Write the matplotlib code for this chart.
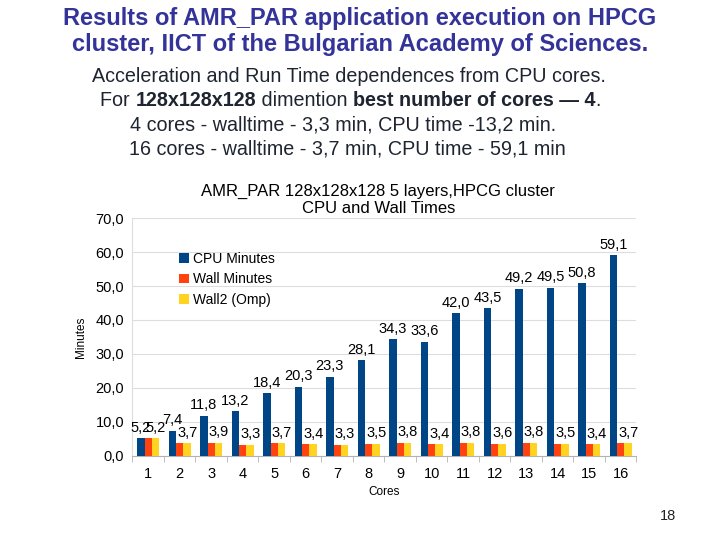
import numpy as np
import matplotlib
matplotlib.use('Agg')
import matplotlib.pyplot as plt

# Data.
cores = np.arange(1, 17)
cpu_minutes = [5.2, 7.4, 11.8, 13.2, 18.4, 20.3, 23.3, 28.1, 34.3, 33.6, 42.0, 43.5, 49.2, 49.5, 50.8, 59.1]
wall_minutes = [5.2, 3.7, 3.9, 3.3, 3.7, 3.4, 3.3, 3.5, 3.8, 3.4, 3.8, 3.6, 3.8, 3.5, 3.4, 3.7]
wall2_omp = [5.2, 3.7, 3.9, 3.3, 3.7, 3.4, 3.3, 3.5, 3.8, 3.4, 3.8, 3.6, 3.8, 3.5, 3.4, 3.7]
yticks = np.arange(0, 71, 10)

plt.rcParams['font.family'] = ['Liberation Sans', 'DejaVu Sans']

def comma(v):
    return f'{v:.1f}'.replace('.', ',')

fig = plt.figure(figsize=(7.2, 5.4), dpi=100)
renderer = fig.canvas.get_renderer()

def mixed_line(y, parts, cx, **kw):
    # Draw a line of text made of (string, weight) parts, centred at cx.
    texts = [fig.text(0, y, s, fontweight=wt, va='center', **kw) for s, wt in parts]
    widths = [t.get_window_extent(renderer).width / fig.bbox.width for t in texts]
    x = cx - sum(widths) / 2
    for t, wd in zip(texts, widths):
        t.set_x(x)
        x += wd

# Slide header.
fig.text(0.5, 0.966, 'Results of AMR_PAR application execution on HPCG', ha='center', va='center',
         fontsize=17, fontweight='bold', color='#333399')
fig.text(0.5, 0.918, 'cluster, IICT of the Bulgarian Academy of Sciences.', ha='center', va='center',
         fontsize=17, fontweight='bold', color='#333399')
sub_color = '#1e2430'
fig.text(0.484, 0.859, 'Acceleration and Run Time dependences from CPU cores.', ha='center', va='center',
         fontsize=14.2, color=sub_color)
mixed_line(0.814, [('For ', 'normal'), ('128x128x128', 'bold'), (' dimention ', 'normal'),
                   ('best number of cores \u2014 4', 'bold'), ('.', 'normal')],
           0.487, fontsize=14.2, color=sub_color)
fig.text(0.477, 0.768, '4 cores - walltime - 3,3 min, CPU time -13,2 min.', ha='center', va='center',
         fontsize=14.2, color=sub_color)
fig.text(0.483, 0.724, '16 cores - walltime - 3,7 min, CPU time - 59,1 min', ha='center', va='center',
         fontsize=14.2, color=sub_color)
fig.text(0.928, 0.044, '18', ha='center', va='center', fontsize=10.5, color='#222222')

# Chart.
ax = fig.add_axes([0.184, 0.156, 0.700, 0.440])
w = 0.235
ax.bar(cores - w, cpu_minutes, w, color='#004586', label='CPU Minutes', zorder=3)
ax.bar(cores, wall_minutes, w, color='#ff420e', label='Wall Minutes', zorder=3)
ax.bar(cores + w, wall2_omp, w, color='#ffd320', label='Wall2 (Omp)', zorder=3)

for c, v in zip(cores, cpu_minutes):
    ax.text(c - w, v + 1.0, comma(v), ha='center', va='bottom', fontsize=10.5)
for c, v in zip(cores, wall2_omp):
    ax.text(c + w, v + 1.0, comma(v), ha='center', va='bottom', fontsize=10.5)

ax.set_xlim(0.5, 16.5)
ax.set_ylim(0, 70)
ax.set_yticks(yticks)
ax.set_yticklabels([comma(t) for t in yticks], fontsize=10.5)
ax.set_xticks(cores)
ax.set_xticklabels([str(c) for c in cores], fontsize=10.5)
ax.set_xticks(np.arange(0.5, 17, 1), minor=True)
ax.tick_params(axis='x', which='major', length=0, pad=8)
ax.tick_params(axis='x', which='minor', length=4, color='#b3b3b3')
ax.tick_params(axis='y', length=0, pad=6)
ax.grid(axis='y', color='#dddddd', linewidth=0.8, zorder=0)
for s in ['top', 'right']:
    ax.spines[s].set_visible(False)
ax.spines['left'].set_color('#dddddd')
ax.spines['bottom'].set_color('#b3b3b3')
ax.set_ylabel('Minutes', fontsize=8.5, labelpad=6)
ax.set_xlabel('Cores', fontsize=8.5, labelpad=4)
ax.set_title('AMR_PAR 128x128x128 5 layers,HPCG cluster\nCPU and Wall Times', fontsize=12,
             linespacing=1.1, pad=4, x=0.488)

ax.legend(loc='upper left', bbox_to_anchor=(0.068, 0.91), frameon=False, fontsize=10,
          handlelength=0.7, handleheight=0.7, handletextpad=0.3, labelspacing=0.45)

fig.savefig('out.png', dpi=100)
